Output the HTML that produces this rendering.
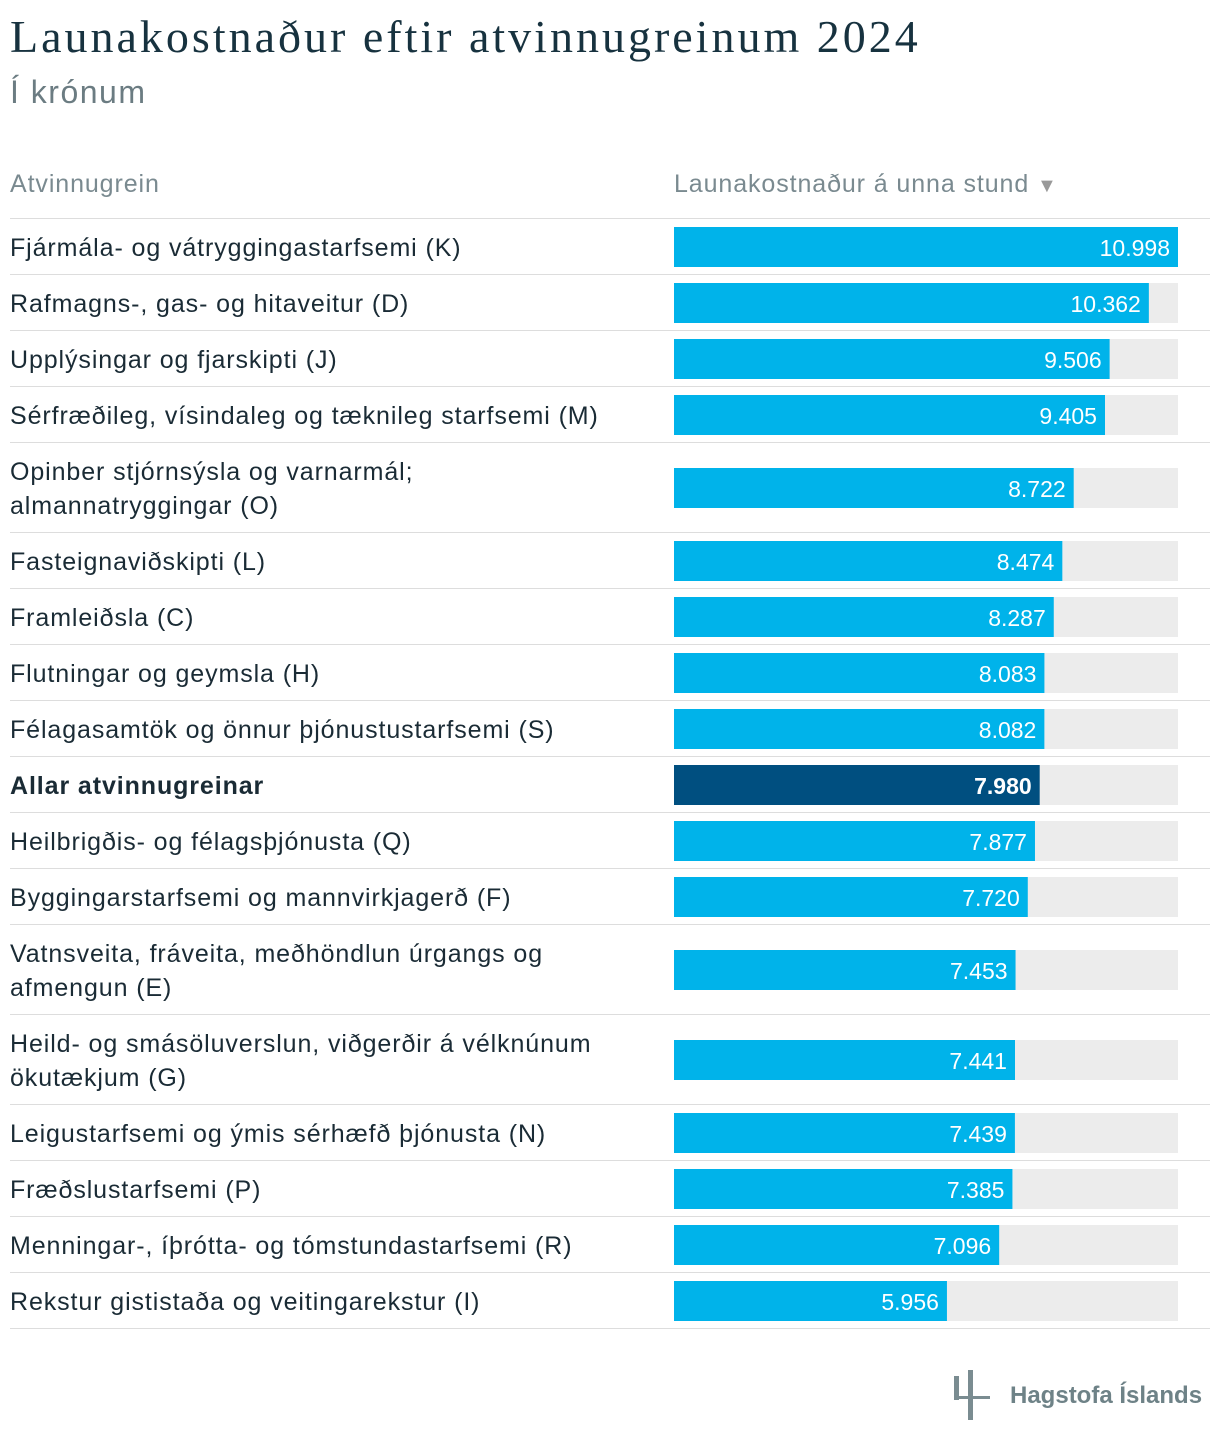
<!DOCTYPE html>
<html><head><meta charset="utf-8">
<style>
body{margin:0;background:#fff;width:1220px;height:1446px;position:relative;font-family:"Liberation Sans",sans-serif;overflow:hidden}
.title{position:absolute;left:10px;top:10px;font-family:"Liberation Serif",serif;font-size:46px;letter-spacing:3px;color:#17323f}
.sub{position:absolute;left:10px;top:74px;font-size:32px;letter-spacing:1.5px;color:#6b7c82}
.hdr{position:absolute;top:170px;font-size:25px;letter-spacing:0.9px;color:#7a8a90}
</style></head><body>
<div class="title">Launakostnaður eftir atvinnugreinum 2024</div>
<div class="sub">Í krónum</div>
<div class="hdr" style="left:10px">Atvinnugrein</div>
<div class="hdr" style="left:674px">Launakostnaður á unna stund <span style="font-size:20px;color:#999">▼</span></div>
<svg id="chart" width="1220" height="1446" style="position:absolute;left:0;top:0"></svg>
<svg width="60" height="60" style="position:absolute;left:940px;top:1362px">
<rect x="14" y="14" width="5" height="24" fill="#7a8c91"/><rect x="28" y="8" width="5" height="50" fill="#7a8c91"/><rect x="14" y="34" width="36" height="3" fill="#7a8c91"/></svg>
<div style="position:absolute;left:1010px;top:1382px;font-size:24px;font-weight:bold;color:#6e8287">Hagstofa Íslands</div>
<script>
const categories=["Fjármála- og vátryggingastarfsemi (K)","Rafmagns-, gas- og hitaveitur (D)","Upplýsingar og fjarskipti (J)","Sérfræðileg, vísindaleg og tæknileg starfsemi (M)","Opinber stjórnsýsla og varnarmál;|almannatryggingar (O)","Fasteignaviðskipti (L)","Framleiðsla (C)","Flutningar og geymsla (H)","Félagasamtök og önnur þjónustustarfsemi (S)","Allar atvinnugreinar","Heilbrigðis- og félagsþjónusta (Q)","Byggingarstarfsemi og mannvirkjagerð (F)","Vatnsveita, fráveita, meðhöndlun úrgangs og|afmengun (E)","Heild- og smásöluverslun, viðgerðir á vélknúnum|ökutækjum (G)","Leigustarfsemi og ýmis sérhæfð þjónusta (N)","Fræðslustarfsemi (P)","Menningar-, íþrótta- og tómstundastarfsemi (R)","Rekstur gististaða og veitingarekstur (I)"];
const values=[10998,10362,9506,9405,8722,8474,8287,8083,8082,7980,7877,7720,7453,7441,7439,7385,7096,5956];
const maxV=Math.max(...values);
const svg=document.getElementById('chart');const NS='http://www.w3.org/2000/svg';
function x(v){return 674+504*v/maxV;}
function el(t,a){const e=document.createElementNS(NS,t);for(const k in a)e.setAttribute(k,a[k]);svg.appendChild(e);return e;}
let y=219;
let ln=el('rect',{x:10,y:y-1,width:1200,height:1,fill:'#ddd'});


categories.forEach((c,i)=>{
 const lines=c.split('|');const h=lines.length>1?90:56;const cy=y+h/2;
 const bold=i===9;
 const bg=el('rect',{x:674,y:cy-20,width:504,height:40,fill:'#ececec'});
 
 
 const b=el('rect',{x:674,y:cy-20,width:x(values[i])-674,height:40,fill:bold?'#004f80':'#00b3ea'});
 
 
 const v=el('text',{x:x(values[i])-8,y:cy+9,'text-anchor':'end',fill:'#fff','font-size':23,'font-family':'Liberation Sans, sans-serif','font-weight':bold?'bold':'normal'});
 v.textContent=values[i].toLocaleString('de-DE');
 
 
 lines.forEach((l,j)=>{
  const t=el('text',{x:10,y:cy+9+(lines.length>1?(j-0.5)*34:0),fill:'#1a2b35','font-size':25,'letter-spacing':0.9,'font-family':'Liberation Sans, sans-serif','font-weight':bold?'bold':'normal'});
  t.textContent=l;
  
  
 });
 y+=h;
 const d=el('rect',{x:10,y:y-1,width:1200,height:1,fill:'#ddd'});
 
 
});
</script>
</body></html>
